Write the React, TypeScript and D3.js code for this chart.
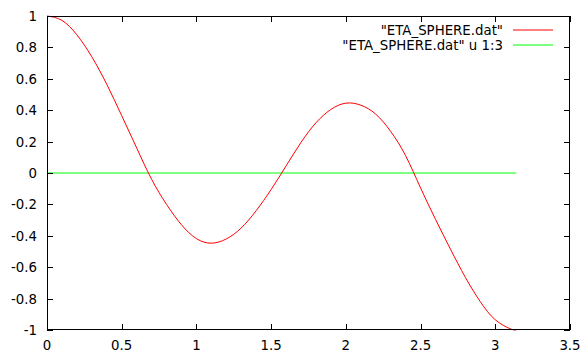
import * as d3 from "d3";

// red curve ("ETA_SPHERE.dat")
const etaX = [
  0, 0.1, 0.2, 0.3, 0.4, 0.5, 0.6, 0.7, 0.8, 0.9, 1.0, 1.1, 1.2, 1.3, 1.4, 1.5,
  1.6, 1.7, 1.8, 1.9, 2.0, 2.1, 2.2, 2.3, 2.4, 2.5, 2.6, 2.7, 2.8, 2.9, 3.0,
  3.1, 3.14,
];
const etaY = [
  1.0, 0.972, 0.88, 0.74, 0.565, 0.365, 0.16, -0.04, -0.2, -0.33, -0.418,
  -0.447, -0.42, -0.35, -0.24, -0.105, 0.045, 0.195, 0.32, 0.405, 0.445, 0.432,
  0.375, 0.265, 0.11, -0.095, -0.295, -0.485, -0.665, -0.82, -0.935, -0.992,
  -1.0,
];
// green line ("u 1:3")
const col3X = [0, 3.14];
const col3Y = [0, 0];

const xTicks = [0, 0.5, 1, 1.5, 2, 2.5, 3, 3.5];
const yTicks = [-1, -0.8, -0.6, -0.4, -0.2, 0, 0.2, 0.4, 0.6, 0.8, 1];
const legendLabels = ['"ETA_SPHERE.dat"', '"ETA_SPHERE.dat" u 1:3'];
const COLORS = ["#ff0000", "#00ff00"];

const W = 586;
const H = 358;
const margin = { left: 47, right: 16, top: 16, bottom: 28 };
const FONT = "'DejaVu Sans', sans-serif";

const App = () => {
  const x = d3
    .scaleLinear()
    .domain([0, 3.5])
    .range([margin.left, W - margin.right]);
  const y = d3
    .scaleLinear()
    .domain([-1, 1])
    .range([H - margin.bottom, margin.top]);

  const line = d3
    .line<[number, number]>()
    .x((d) => x(d[0]))
    .y((d) => y(d[1]))
    .curve(d3.curveNatural);

  const eta: [number, number][] = etaX.map((v, i) => [v, etaY[i]]);
  const col3: [number, number][] = col3X.map((v, i) => [v, col3Y[i]]);

  const [x0, x1] = x.range();
  const [y0, y1] = y.range();
  const tick = 6;

  return (
    <svg
      width={W}
      height={H}
      style={{ position: "absolute", left: 0, top: 0, background: "#fff" }}
      fontFamily={FONT}
      fontSize={13.33}
    >
      <path d={line(col3) ?? ""} fill="none" stroke={COLORS[1]} strokeWidth={1} />
      <path d={line(eta) ?? ""} fill="none" stroke={COLORS[0]} strokeWidth={1} />

      {/* ticks, mirrored on all sides */}
      <g stroke="#000" strokeWidth={1}>
        {xTicks.map((t) => (
          <g key={`xt${t}`}>
            <line x1={Math.round(x(t)) + 0.5} x2={Math.round(x(t)) + 0.5} y1={y0} y2={y0 - tick} />
            <line x1={Math.round(x(t)) + 0.5} x2={Math.round(x(t)) + 0.5} y1={y1} y2={y1 + tick} />
          </g>
        ))}
        {yTicks.map((t) => (
          <g key={`yt${t}`}>
            <line x1={x0} x2={x0 + tick} y1={Math.round(y(t)) + 0.5} y2={Math.round(y(t)) + 0.5} />
            <line x1={x1} x2={x1 - tick} y1={Math.round(y(t)) + 0.5} y2={Math.round(y(t)) + 0.5} />
          </g>
        ))}
      </g>

      <rect
        x={x0 + 0.5}
        y={y1 + 0.5}
        width={x1 - x0 - 1}
        height={y0 - y1 - 1}
        fill="none"
        stroke="#000"
        strokeWidth={1}
      />

      {xTicks.map((t) => (
        <text key={`xl${t}`} x={x(t)} y={y0 + 20} textAnchor="middle" fill="#000">
          {t}
        </text>
      ))}
      {yTicks.map((t) => (
        <text
          key={`yl${t}`}
          x={x0 - 10}
          y={y(t) + 5}
          textAnchor="end"
          fill="#000"
        >
          {t}
        </text>
      ))}

      {legendLabels.map((label, i) => (
        <g key={label}>
          <text x={503} y={35 + i * 15} textAnchor="end" fill="#000">
            {label}
          </text>
          <line x1={513} x2={553} y1={30 + i * 15} y2={30 + i * 15} stroke={COLORS[i]} strokeWidth={1} />
        </g>
      ))}
    </svg>
  );
};

export default App;
